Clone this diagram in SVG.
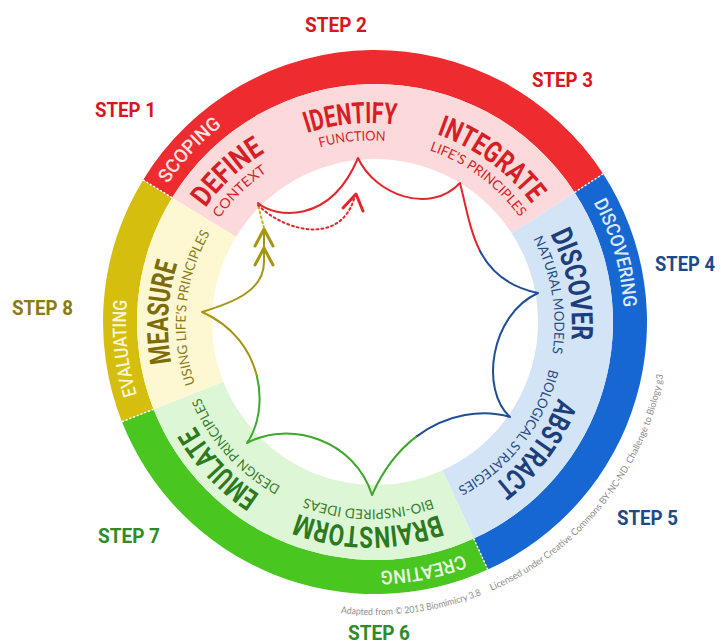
<svg xmlns="http://www.w3.org/2000/svg" width="721" height="644" viewBox="0 0 721 644">
<defs>
<style>
.title{font-family:Roboto,"Liberation Sans",sans-serif;font-weight:700;font-size:29.5px}
.sub{font-family:Lato,"Open Sans",sans-serif;font-size:13.5px}
.band{font-family:Roboto,"Liberation Sans",sans-serif;font-weight:500;font-size:19px}
.step{font-family:Roboto,"Liberation Sans",sans-serif;font-weight:700;font-size:20px}
.credit{font-family:Lato,"Open Sans",sans-serif;font-size:9.5px;fill:#8c8c8c}
.sep{stroke:#fff;stroke-width:1.5;stroke-dasharray:2 2;fill:none}
.ln{fill:none;stroke-width:2;stroke-linecap:round;stroke-linejoin:round}
.red{fill:#D51E26}.blue{fill:#1C3F7C}.green{fill:#2D7A1E}.olive{fill:#7D6C0A}
.rs{fill:#D8232A}.bs{fill:#264A82}.gs{fill:#3A7D2C}.os{fill:#8A7A1A}
</style>
<path id="pDefine" d="M168.12,317.95 A202,202 0 0 1 377.05,123.12"/>
<path id="pIdentify" d="M214.36,196.24 A202,202 0 0 1 498.76,169.36"/>
<path id="pIntegrate" d="M339.10,125.38 A202,202 0 0 1 569.62,294.10"/>
<path id="pDiscover" d="M481.92,157.04 A202,202 0 0 1 538.15,436.92"/>
<path id="pAbstract" d="M569.91,296.01 A202,202 0 0 1 398.98,524.91"/>
<path id="pBrainstorm" d="M511.46,469.20 A202,202 0 0 1 225.80,466.46"/>
<path id="pEmulate" d="M364.71,526.93 A202,202 0 0 1 168.07,319.71"/>
<path id="pMeasure" d="M218.84,459.00 A202,202 0 0 1 236.00,173.84"/>
<path id="sContext" d="M185.51,322.75 A184.5,184.5 0 0 1 372.25,140.51"/>
<path id="sFunction" d="M227.64,207.64 A184.5,184.5 0 0 1 487.36,182.64"/>
<path id="sLife" d="M342.73,142.53 A184.5,184.5 0 0 1 552.47,297.73"/>
<path id="sNatural" d="M477.14,174.80 A184.5,184.5 0 0 1 520.20,432.14"/>
<path id="sBio" d="M553.02,301.72 A184.5,184.5 0 0 1 393.28,508.02"/>
<path id="sIdeas" d="M499.32,456.59 A184.5,184.5 0 0 1 238.41,454.32"/>
<path id="sDesign" d="M360.67,509.26 A184.5,184.5 0 0 1 185.74,315.67"/>
<path id="sUsing" d="M227.43,442.11 A184.5,184.5 0 0 1 252.89,182.43"/>
<path id="bScoping" d="M126.17,331.34 A249,249 0 0 1 365.66,73.17"/>
<path id="bDiscovering" d="M495.72,104.22 A249,249 0 0 1 592.78,442.72"/>
<path id="bCreating" d="M581.43,461.24 A249,249 0 0 1 235.76,528.43"/>
<path id="bEvaluating" d="M218.30,515.51 A249,249 0 0 1 181.49,165.30"/>
<path id="cArc" d="M324.12,610.55 A293,293 0 0 0 666.88,347.54"/>
</defs>
<rect width="721" height="644" fill="#fff"/>

<g id="phase-scoping">
<path d="M143.08,179.88 A272,272 0 0 1 603.12,173.86 L574.60,192.38 A238,238 0 0 0 172.07,197.64 Z" fill="#EE2B2F"/>
<path d="M172.07,197.64 A238,238 0 0 1 574.60,192.38 L511.70,233.22 A163,163 0 0 0 236.02,236.83 Z" fill="#FCDADB"/>
<text class="band" fill="#FDE3E3" text-anchor="middle"><textPath href="#bScoping" startOffset="50%" textLength="80" lengthAdjust="spacingAndGlyphs">SCOPING</textPath></text>
</g>
<g id="phase-discovering">
<path d="M603.12,173.86 A272,272 0 0 1 487.80,569.51 L473.70,538.57 A238,238 0 0 0 574.60,192.38 Z" fill="#1767D2"/>
<path d="M574.60,192.38 A238,238 0 0 1 473.70,538.57 L442.59,470.32 A163,163 0 0 0 511.70,233.22 Z" fill="#D3E4F7"/>
<text class="band" fill="#DDEBFB" text-anchor="middle"><textPath href="#bDiscovering" startOffset="50%" textLength="110" lengthAdjust="spacingAndGlyphs">DISCOVERING</textPath></text>
</g>
<g id="phase-creating">
<path d="M487.80,569.51 A272,272 0 0 1 121.93,421.69 L153.56,409.23 A238,238 0 0 0 473.70,538.57 Z" fill="#4AC620"/>
<path d="M473.70,538.57 A238,238 0 0 1 153.56,409.23 L223.34,381.74 A163,163 0 0 0 442.59,470.32 Z" fill="#DDF7D6"/>
<text class="band" fill="#E8FBE2" text-anchor="middle"><textPath href="#bCreating" startOffset="50%" textLength="85" lengthAdjust="spacingAndGlyphs">CREATING</textPath></text>
</g>
<g id="phase-evaluating">
<path d="M121.93,421.69 A272,272 0 0 1 143.08,179.88 L172.07,197.64 A238,238 0 0 0 153.56,409.23 Z" fill="#D6BE0E"/>
<path d="M153.56,409.23 A238,238 0 0 1 172.07,197.64 L236.02,236.83 A163,163 0 0 0 223.34,381.74 Z" fill="#FDF8D2"/>
<text class="band" fill="#FBF6D6" text-anchor="middle"><textPath href="#bEvaluating" startOffset="50%" textLength="96" lengthAdjust="spacingAndGlyphs">EVALUATING</textPath></text>
</g>
<g id="separators">
<path class="sep" d="M121.93,421.69 L153.56,409.23 M143.08,179.88 L172.07,197.64 M603.12,173.86 L574.60,192.38 M487.80,569.51 L473.70,538.57"/>
</g>

<g id="step1">
<text class="step" fill="#D9161E" x="95" y="117" textLength="61" lengthAdjust="spacingAndGlyphs">STEP 1</text>
<text class="title red" text-anchor="middle"><textPath href="#pDefine" startOffset="50%" textLength="82" lengthAdjust="spacingAndGlyphs">DEFINE</textPath></text>
<text class="sub rs" text-anchor="middle"><textPath href="#sContext" startOffset="50%" textLength="67" lengthAdjust="spacingAndGlyphs">CONTEXT</textPath></text>
</g>
<g id="step2">
<text class="step" fill="#D9161E" x="305" y="32" textLength="62" lengthAdjust="spacingAndGlyphs">STEP 2</text>
<text class="title red" text-anchor="middle"><textPath href="#pIdentify" startOffset="50%" textLength="90" lengthAdjust="spacingAndGlyphs">IDENTIFY</textPath></text>
<text class="sub rs" text-anchor="middle"><textPath href="#sFunction" startOffset="50%" textLength="66" lengthAdjust="spacingAndGlyphs">FUNCTION</textPath></text>
</g>
<g id="step3">
<text class="step" fill="#D9161E" x="532" y="87" textLength="61" lengthAdjust="spacingAndGlyphs">STEP 3</text>
<text class="title red" text-anchor="middle"><textPath href="#pIntegrate" startOffset="50%" textLength="119" lengthAdjust="spacingAndGlyphs">INTEGRATE</textPath></text>
<text class="sub rs" text-anchor="middle"><textPath href="#sLife" startOffset="50%" textLength="114" lengthAdjust="spacingAndGlyphs">LIFE’S PRINCIPLES</textPath></text>
</g>
<g id="step4">
<text class="step" fill="#1B4A8A" x="655" y="271" textLength="60" lengthAdjust="spacingAndGlyphs">STEP 4</text>
<text class="title blue" text-anchor="middle"><textPath href="#pDiscover" startOffset="50%" textLength="109" lengthAdjust="spacingAndGlyphs">DISCOVER</textPath></text>
<text class="sub bs" text-anchor="middle"><textPath href="#sNatural" startOffset="50%" textLength="118" lengthAdjust="spacingAndGlyphs">NATURAL MODELS</textPath></text>
</g>
<g id="step5">
<text class="step" fill="#1B4A8A" x="617" y="525" textLength="61" lengthAdjust="spacingAndGlyphs">STEP 5</text>
<text class="title blue" text-anchor="middle"><textPath href="#pAbstract" startOffset="50%" textLength="109" lengthAdjust="spacingAndGlyphs">ABSTRACT</textPath></text>
<text class="sub bs" text-anchor="middle"><textPath href="#sBio" startOffset="50%" textLength="154" lengthAdjust="spacingAndGlyphs">BIOLOGICAL STRATEGIES</textPath></text>
</g>
<g id="step6">
<text class="step" fill="#2E8B2A" x="348" y="640" textLength="62" lengthAdjust="spacingAndGlyphs">STEP 6</text>
<text class="title green" text-anchor="middle"><textPath href="#pBrainstorm" startOffset="50%" textLength="144" lengthAdjust="spacingAndGlyphs">BRAINSTORM</textPath></text>
<text class="sub gs" text-anchor="middle"><textPath href="#sIdeas" startOffset="50%" textLength="129" lengthAdjust="spacingAndGlyphs">BIO-INSPIRED IDEAS</textPath></text>
</g>
<g id="step7">
<text class="step" fill="#2E8B2A" x="98" y="543" textLength="62" lengthAdjust="spacingAndGlyphs">STEP 7</text>
<text class="title green" text-anchor="middle"><textPath href="#pEmulate" startOffset="50%" textLength="95" lengthAdjust="spacingAndGlyphs">EMULATE</textPath></text>
<text class="sub gs" text-anchor="middle"><textPath href="#sDesign" startOffset="50%" textLength="122" lengthAdjust="spacingAndGlyphs">DESIGN PRINCIPLES</textPath></text>
</g>
<g id="step8">
<text class="step" fill="#8A7A12" x="12" y="315" textLength="61" lengthAdjust="spacingAndGlyphs">STEP 8</text>
<text class="title olive" text-anchor="middle"><textPath href="#pMeasure" startOffset="50%" textLength="100" lengthAdjust="spacingAndGlyphs">MEASURE</textPath></text>
<text class="sub os" text-anchor="middle"><textPath href="#sUsing" startOffset="50%" textLength="156" lengthAdjust="spacingAndGlyphs">USING LIFE’S PRINCIPLES</textPath></text>
</g>

<g id="connectors" class="ln">
<path d="M258,203 C275,218 330,225 358,158 C375,195 430,215 460,183 C466,206.5 469.75,230.75 479.9,250.75" stroke="#E4262C"/>
<path d="M479.9,250.75 C490,270.75 506.5,286.5 538,293 C490,315 480,390 510,417 C484,409.2 447.4,412.8 416,436.9" stroke="#1E4E98"/>
<path d="M416,436.9 C399,449.9 383.6,468.8 372,495 C355,440 290,420 247,443 C258.5,426.5 263,400.75 256.75,375.6" stroke="#3DA82C"/>
<path d="M256.75,375.6 C250.5,350.5 233.5,326 202,312 C235,302 264,290 264,262 L264,231" stroke="#A69512"/>
<path d="M255,246 L264,229 L273,246 M255,265 L264,248 L273,265" stroke="#A69512" stroke-width="3"/>
<path d="M264,228 L258,205" stroke="#C4B21A" stroke-dasharray="2 3"/>
<path d="M258,205 C285,232 340,245 354,199" stroke="#E4262C" stroke-dasharray="2 3"/>
<path d="M343,208 L356,194 L363,211" stroke="#E4262C" stroke-width="3"/>
</g>

<g id="credits">
<text class="credit"><textPath href="#cArc" startOffset="17" textLength="143" lengthAdjust="spacingAndGlyphs">Adapted from © 2013 Biomimicry 3.8</textPath></text>
<text class="credit"><textPath href="#cArc" startOffset="171" textLength="287" lengthAdjust="spacingAndGlyphs">Licensed under Creative Commons BY-NC-ND. Challenge to Biology g3</textPath></text>
</g>
</svg>
